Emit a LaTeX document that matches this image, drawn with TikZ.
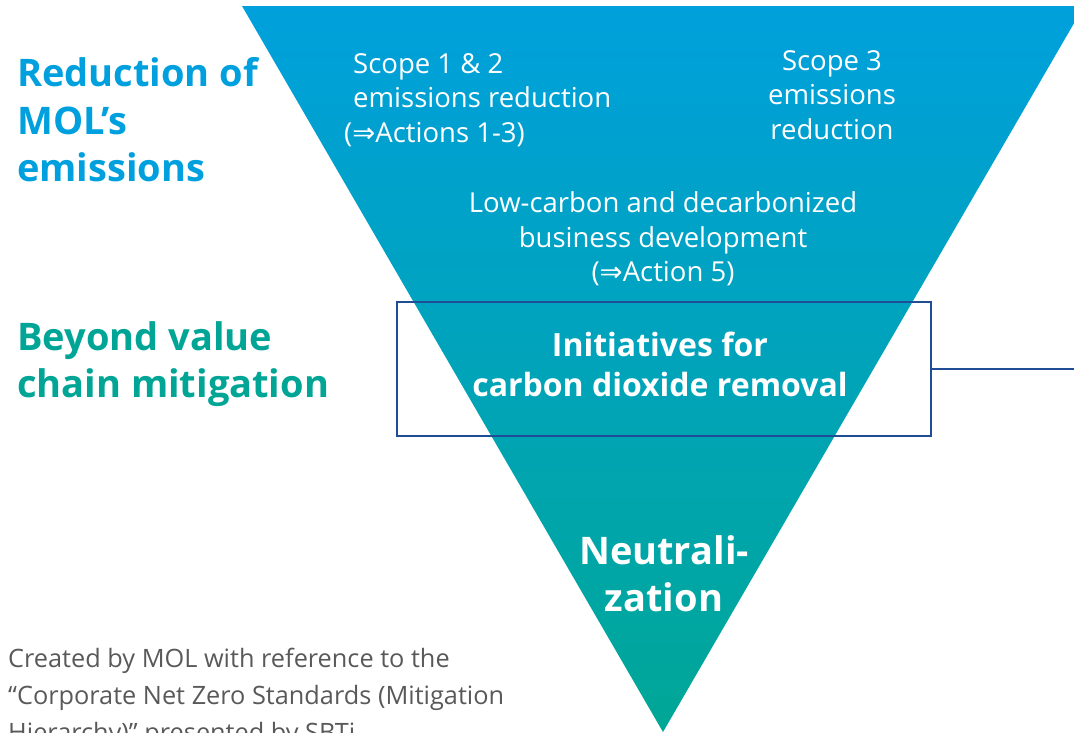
\documentclass[tikz,border=0pt]{standalone}
\usepackage{fontspec}
\setmainfont{Open Sans}
\newfontfamily\symfont{DejaVu Sans}
\definecolor{topblue}{RGB}{0,160,220}
\definecolor{botteal}{RGB}{0,167,150}
\definecolor{hblue}{RGB}{0,160,222}
\definecolor{hteal}{RGB}{0,165,150}
\definecolor{boxblue}{RGB}{31,78,150}
\definecolor{notegray}{RGB}{89,89,89}
\newcommand{\impl}{{\symfont ⇒}}
\tikzset{
  wtext/.style={text=white, inner sep=0pt, font=\fontsize{27.5}{34.5}\selectfont},
  wbold/.style={text=white, inner sep=0pt, font=\bfseries\fontsize{32}{40}\selectfont},
  heading/.style={inner sep=0pt, anchor=west, align=left, font=\bfseries\fontsize{38}{47.5}\selectfont},
  cdrbox/.style={draw=boxblue, line width=2.5pt, minimum width=534pt, minimum height=134pt, inner sep=0pt},
  link/.style={draw=boxblue, line width=2.5pt},
  note/.style={text=notegray, inner sep=0pt, anchor=west, align=left, font=\fontsize{25.3}{37}\selectfont}
}
\begin{document}
\begin{tikzpicture}[x=1pt,y=-1pt]
\useasboundingbox (0,0) rectangle (1074,732);
\clip (0,0) rectangle (1074,732);
\shade[top color=topblue, bottom color=botteal] (242,6) -- (1084,6) -- (663,732) -- cycle;

\node[heading, text=hblue] (red) at (17,120) {Reduction of\\MOL’s\\emissions};
\node[heading, text=hteal] (bey) at (17,364) {Beyond value\\chain mitigation};

\node[wtext, anchor=west, align=left] (s12) at (344,100) {\hspace{9pt}Scope 1 \& 2\\\hspace{9pt}emissions reduction\\(\impl Actions 1-3)};
\node[wtext, align=center] (s3) at (832,95) {Scope 3\\emissions\\reduction};
\node[wtext, align=center] (low) at (663,239) {Low-carbon and decarbonized\\business development\\(\impl Action 5)};

\node[cdrbox] (box) at (664,369) {};
\node[wbold, align=center] (cdr) at (660,364) {Initiatives for\\carbon dioxide removal};
\coordinate (edge) at (1074,369);
\draw[link] (box.east) -- (edge);

\node[text=white, inner sep=0pt, align=center, font=\bfseries\fontsize{38}{47}\selectfont] (neu) at (664,574) {Neutrali-\\zation};

\node[note] (src) at (8,698) {Created by MOL with reference to the\\“Corporate Net Zero Standards (Mitigation\\Hierarchy)” presented by SBTi};
\end{tikzpicture}
\end{document}
